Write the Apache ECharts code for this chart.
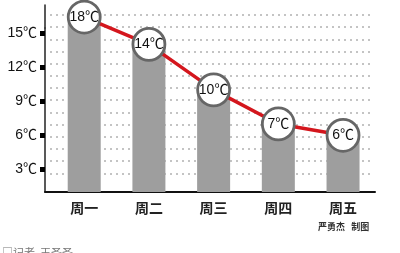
<!DOCTYPE html>
<html><head><meta charset="utf-8">
<script src="https://cdn.jsdelivr.net/npm/echarts@6/dist/echarts.min.js"></script>
<style>html,body{margin:0;padding:0;background:#fff}#c{width:400px;height:253px}</style>
</head><body><div id="c"></div>
<script>
const days = ['周一','周二','周三','周四','周五'];
const temps = [18, 14, 10, 7, 6];
const yTicks = [3, 6, 9, 12, 15];
const credit = '严勇杰   制图';
const byline = '□记者  王圣圣';

const FONT = '"Liberation Sans", "Noto Sans CJK SC", sans-serif';
const pts = temps.map((v, i) => [i, v]);
const chart = echarts.init(document.getElementById('c'), null, {renderer: 'canvas'});
chart.setOption({
  animation: false,
  backgroundColor: '#fff',
  grid: [
    {left: 45, right: 25, top: 5, bottom: 61},
    {left: 50, right: 27, top: 15, bottom: 79.7}
  ],
  xAxis: [
    {
      type: 'value', gridIndex: 0, min: -0.606, max: 4.494,
      axisLine: {show: true, onZero: false, lineStyle: {color: '#111', width: 2}},
      axisTick: {show: false},
      splitLine: {show: false},
      axisLabel: {
        customValues: days.map((d, i) => i),
        formatter: v => days[Math.round(v)] || '',
        margin: 9, fontSize: 14, fontWeight: 'bold', color: '#222',
        fontFamily: '"Noto Sans CJK SC", sans-serif'
      }
    },
    {type: 'value', gridIndex: 1, show: false, min: 0, max: 1}
  ],
  yAxis: [
    {
      type: 'value', gridIndex: 0, min: 1.015, max: 19.06,
      breaks: [{start: 15.5, end: 17.1, gap: 0}],
      breakArea: {show: false},
      axisLine: {show: true, onZero: false, lineStyle: {color: '#222', width: 1.5}},
      axisTick: {show: true, customValues: yTicks, length: 5, lineStyle: {color: '#000', width: 5}},
      splitLine: {show: false},
      axisLabel: {
        customValues: yTicks,
        formatter: v => (yTicks.indexOf(v) >= 0 ? v + '℃' : ''),
        margin: 8, fontSize: 14, color: '#111', fontFamily: FONT
      }
    },
    {
      type: 'value', gridIndex: 1, min: 0, max: 13, interval: 1,
      axisLine: {show: false}, axisTick: {show: false}, axisLabel: {show: false},
      splitLine: {show: true, lineStyle: {color: '#c4c4c4', width: 2, type: [2, 4]}}
    }
  ],
  series: [
    {
      type: 'bar', xAxisIndex: 0, yAxisIndex: 0, data: pts,
      barWidth: 33, itemStyle: {color: '#9e9e9e'}, z: 2
    },
    {
      type: 'line', xAxisIndex: 0, yAxisIndex: 0, data: pts,
      symbol: 'circle', symbolSize: 32, clip: false,
      lineStyle: {color: '#d4161d', width: 3.5},
      itemStyle: {color: '#fff', borderColor: '#666', borderWidth: 2.8},
      label: {
        show: true, position: 'inside', formatter: p => p.value[1] + '℃',
        color: '#111', fontSize: 14, fontFamily: FONT
      },
      z: 3
    }
  ],
  graphic: [
    {type: 'text', left: 318, top: 222, style: {text: credit, font: 'bold 9px "Noto Sans CJK SC"', fill: '#333'}},
    {type: 'text', left: 2, top: 247, style: {text: byline, font: '11px "Noto Sans CJK SC"', fill: '#777'}}
  ]
});
</script></body></html>
